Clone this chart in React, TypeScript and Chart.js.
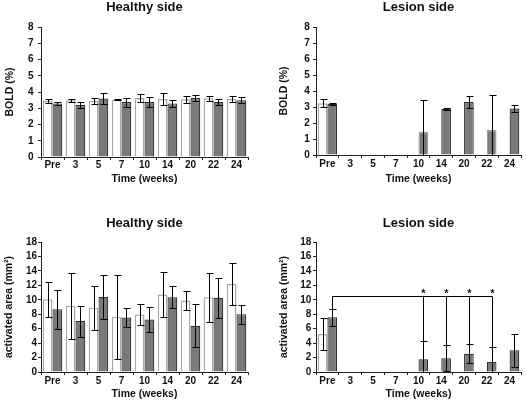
import React, { useEffect, useRef } from 'react';
import { Chart, registerables } from 'chart.js';

Chart.register(...registerables);

// ---- data ----
const weeks = ['Pre', '3', '5', '7', '10', '14', '20', '22', '24'];

// BOLD (%) healthy side
const boldHealthyOpen = [3.45, 3.49, 3.45, 3.53, 3.63, 3.57, 3.55, 3.61, 3.57];
const boldHealthyOpenErr = [0.13, 0.11, 0.2, 0.05, 0.26, 0.36, 0.2, 0.17, 0.2];
const boldHealthyFilled = [3.3, 3.2, 3.6, 3.38, 3.38, 3.3, 3.63, 3.4, 3.5];
const boldHealthyFilledErr = [0.08, 0.16, 0.35, 0.28, 0.3, 0.2, 0.2, 0.2, 0.18];

// BOLD (%) lesion side
const boldLesionOpen = [3.24, null, null, null, null, null, null, null, null];
const boldLesionOpenErr = [0.26, null, null, null, null, null, null, null, null];
const boldLesionFilled = [3.18, null, null, null, 1.43, 2.87, 3.31, 1.56, 2.9];
const boldLesionFilledErr = [0.06, null, null, null, 2.02, 0.08, 0.4, 2.2, 0.2];

// activated area (mm²) healthy side
const areaHealthyOpen = [10.08, 9.16, 8.89, 7.64, 7.97, 10.73, 9.9, 10.36, 12.2];
const areaHealthyOpenErr = [2.4, 4.6, 3.06, 5.8, 1.42, 3.06, 1.27, 3.4, 2.93];
const areaHealthyFilled = [8.7, 7.05, 10.4, 7.55, 7.27, 10.36, 6.4, 10.27, 8.01];
const areaHealthyFilledErr = [2.7, 2.15, 3.04, 1.3, 1.75, 1.56, 2.95, 2.8, 1.32];

// activated area (mm²) lesion side
const areaLesionOpen = [5.26, null, null, null, null, null, null, null, null];
const areaLesionOpenErr = [2.2, null, null, null, null, null, null, null, null];
const areaLesionFilled = [7.58, null, null, null, 1.77, 1.91, 2.51, 1.4, 3.02];
const areaLesionFilledErr = [1.16, null, null, null, 2.5, 1.82, 1.3, 2.05, 2.28];

// significance vs Pre
const sigReference = 'Pre';
const sigWeeks = ['10', '14', '20', '22'];
const sigBracketLevel = 10.5;
const sigStarLevel = 11.1;

// ---- styles ----
const FONT = '"Liberation Sans", Arial, Helvetica, sans-serif';
const TEXT = '#111111';
const AXIS = '#222222';
const GRAY_FILL = '#7a7a7a';
const GRAY_BORDER = '#2e2e2e';
const OPEN_BORDER = '#a8a8a8';
const lesionBoldBorders = [GRAY_BORDER, GRAY_BORDER, GRAY_BORDER, GRAY_BORDER, '#9a9a9a', GRAY_BORDER, GRAY_BORDER, '#9a9a9a', GRAY_BORDER];

const errorBarPlugin = {
  id: 'errorBars',
  afterDatasetsDraw(chart: any) {
    const { ctx } = chart;
    const y = chart.scales.y;
    chart.data.datasets.forEach((ds: any, di: number) => {
      const meta = chart.getDatasetMeta(di);
      const errs = ds.errors || [];
      meta.data.forEach((bar: any, i: number) => {
        const v = ds.data[i];
        const e = errs[i];
        if (v == null || e == null) return;
        const x = Math.round(bar.x) + 0.5;
        const top = Math.round(y.getPixelForValue(v + e)) + 0.5;
        const lo = v - e;
        const bottom = Math.round(y.getPixelForValue(Math.max(0, lo))) + 0.5;
        const cap = 3;
        ctx.save();
        ctx.strokeStyle = '#000000';
        ctx.lineWidth = 1;
        ctx.beginPath();
        ctx.moveTo(x, top);
        ctx.lineTo(x, bottom);
        ctx.moveTo(x - cap, top);
        ctx.lineTo(x + cap + 1, top);
        if (lo > 0) {
          ctx.moveTo(x - cap, bottom);
          ctx.lineTo(x + cap + 1, bottom);
        }
        ctx.stroke();
        ctx.restore();
      });
    });
  },
};

const bracketPlugin = {
  id: 'sigBracket',
  afterDatasetsDraw(chart: any) {
    const ctx = chart.ctx;
    const y = chart.scales.y;
    const dsIndex = 1;
    const meta = chart.getDatasetMeta(dsIndex);
    const ds = chart.data.datasets[dsIndex];
    const labels = chart.data.labels;
    const refIdx = labels.indexOf(sigReference);
    const idxs = sigWeeks.map((w) => labels.indexOf(w));
    const yb = Math.round(y.getPixelForValue(sigBracketLevel)) + 0.5;
    const xr = Math.round(meta.data[refIdx].x) + 0.5;
    const xLast = Math.round(meta.data[idxs[idxs.length - 1]].x) + 0.5;
    ctx.save();
    ctx.strokeStyle = '#000000';
    ctx.lineWidth = 1;
    ctx.beginPath();
    ctx.moveTo(xr, yb);
    ctx.lineTo(xLast, yb);
    const refTop = ds.data[refIdx] + ds.errors[refIdx];
    ctx.moveTo(xr, yb);
    ctx.lineTo(xr, Math.round(y.getPixelForValue(refTop)) + 0.5);
    idxs.forEach((i) => {
      const x = Math.round(meta.data[i].x) + 0.5;
      ctx.moveTo(x, yb);
      ctx.lineTo(x, Math.round(y.getPixelForValue(ds.data[i])) + 0.5);
    });
    ctx.stroke();
    ctx.fillStyle = TEXT;
    ctx.font = `bold 11px ${FONT}`;
    ctx.textAlign = 'center';
    ctx.textBaseline = 'middle';
    idxs.forEach((i) => {
      ctx.fillText('*', Math.round(meta.data[i].x) + 0.5, y.getPixelForValue(sigStarLevel) + 2);
    });
    ctx.restore();
  },
};

type PanelSpec = {
  title: string;
  yTitle: string;
  yMax: number;
  yStep: number;
  open: (number | null)[];
  openErr: (number | null)[];
  filled: (number | null)[];
  filledErr: (number | null)[];
  filledBorder?: string[];
  lay: {
    padLeft: number;
    padRight: number;
    titleTop: number;
    titleBottom: number;
    yTitlePad: number;
    yTickPad: number;
    xHeight: number;
    xTickPad: number;
    xTitleBottom: number;
  };
  bracket?: boolean;
};

function makeConfig(p: PanelSpec): any {
  const plugins: any[] = [errorBarPlugin];
  if (p.bracket) plugins.push(bracketPlugin);
  return {
    type: 'bar',
    data: {
      labels: weeks,
      datasets: [
        {
          data: p.open,
          errors: p.openErr,
          backgroundColor: '#ffffff',
          borderColor: OPEN_BORDER,
          borderWidth: 1.5,
        },
        {
          data: p.filled,
          errors: p.filledErr,
          backgroundColor: GRAY_FILL,
          borderColor: p.filledBorder || GRAY_BORDER,
          borderWidth: 1.2,
        },
      ],
    },
    options: {
      animation: false,
      responsive: false,
      maintainAspectRatio: false,
      devicePixelRatio: 1,
      datasets: { bar: { categoryPercentage: 0.85, barPercentage: 1.0 } },
      layout: { padding: { left: p.lay.padLeft, right: p.lay.padRight, top: 0, bottom: 0 } },
      plugins: {
        legend: { display: false },
        tooltip: { enabled: false },
        title: {
          display: true,
          text: p.title,
          fullSize: false,
          color: TEXT,
          font: { family: FONT, size: 13, weight: 'bold', lineHeight: 1.2 },
          padding: { top: p.lay.titleTop, bottom: p.lay.titleBottom },
        },
      },
      scales: {
        x: {
          offset: true,
          grid: { display: true, offset: true, drawOnChartArea: false, drawTicks: true, tickLength: 3, color: AXIS },
          border: { display: true, color: AXIS, width: 1 },
          ticks: {
            color: TEXT,
            padding: p.lay.xTickPad,
            maxRotation: 0,
            autoSkip: false,
            font: { family: FONT, size: 10, weight: 'bold', lineHeight: 1 },
          },
          title: {
            display: true,
            text: 'Time (weeks)',
            color: TEXT,
            font: { family: FONT, size: 10.5, weight: 'bold', lineHeight: 1.2 },
            padding: { top: 0, bottom: p.lay.xTitleBottom },
          },
          afterFit: (s: any) => {
            s.height = p.lay.xHeight;
          },
        },
        y: {
          min: 0,
          max: p.yMax,
          grid: { display: true, drawOnChartArea: false, drawTicks: true, tickLength: 3, color: AXIS },
          border: { display: true, color: AXIS, width: 1 },
          ticks: {
            stepSize: p.yStep,
            autoSkip: false,
            color: TEXT,
            padding: p.lay.yTickPad,
            font: { family: FONT, size: 10, weight: 'bold', lineHeight: 1 },
          },
          title: {
            display: true,
            text: p.yTitle,
            color: TEXT,
            font: { family: FONT, size: 10.5, weight: 'bold', lineHeight: 1.2 },
            padding: { top: p.lay.yTitlePad, bottom: 0 },
          },
          afterFit: (s: any) => {
            s.width = 41;
          },
        },
      },
    },
    plugins,
  };
}

const panels: { spec: PanelSpec; left: number; top: number; width: number; height: number }[] = [
  {
    left: 0,
    top: 0,
    width: 263,
    height: 200,
    spec: {
      title: 'Healthy side',
      yTitle: 'BOLD (%)',
      yMax: 8,
      yStep: 1,
      open: boldHealthyOpen,
      openErr: boldHealthyOpenErr,
      filled: boldHealthyFilled,
      filledErr: boldHealthyFilledErr,
      lay: { padLeft: 0, padRight: 15, titleTop: 0, titleBottom: 11.4, yTitlePad: 4, yTickPad: 4.5, xHeight: 43, xTickPad: 0, xTitleBottom: 15 },
    },
  },
  {
    left: 263,
    top: 0,
    width: 264,
    height: 200,
    spec: {
      title: 'Lesion side',
      yTitle: 'BOLD (%)',
      yMax: 8,
      yStep: 1,
      open: boldLesionOpen,
      openErr: boldLesionOpenErr,
      filled: boldLesionFilled,
      filledErr: boldLesionFilledErr,
      filledBorder: lesionBoldBorders,
      lay: { padLeft: 12, padRight: 6, titleTop: 0, titleBottom: 11.4, yTitlePad: 2.5, yTickPad: 3.3, xHeight: 45, xTickPad: 1, xTitleBottom: 14.7 },
    },
  },
  {
    left: 0,
    top: 200,
    width: 263,
    height: 204,
    spec: {
      title: 'Healthy side',
      yTitle: 'activated area (mm²)',
      yMax: 18,
      yStep: 2,
      open: areaHealthyOpen,
      openErr: areaHealthyOpenErr,
      filled: areaHealthyFilled,
      filledErr: areaHealthyFilledErr,
      lay: { padLeft: 0, padRight: 15, titleTop: 16, titleBottom: 10.4, yTitlePad: 3, yTickPad: 1, xHeight: 32, xTickPad: 1.7, xTitleBottom: 3.4 },
    },
  },
  {
    left: 263,
    top: 200,
    width: 264,
    height: 204,
    spec: {
      title: 'Lesion side',
      yTitle: 'activated area (mm²)',
      yMax: 18,
      yStep: 2,
      open: areaLesionOpen,
      openErr: areaLesionOpenErr,
      filled: areaLesionFilled,
      filledErr: areaLesionFilledErr,
      bracket: true,
      lay: { padLeft: 12, padRight: 6, titleTop: 16, titleBottom: 10.4, yTitlePad: 2.4, yTickPad: 1.7, xHeight: 32, xTickPad: 1.7, xTitleBottom: 3.4 },
    },
  },
];

function Panel({ spec, left, top, width, height }: { spec: PanelSpec; left: number; top: number; width: number; height: number }) {
  const ref = useRef<HTMLCanvasElement | null>(null);
  useEffect(() => {
    if (!ref.current) return;
    const chart = new Chart(ref.current, makeConfig(spec));
    return () => chart.destroy();
  }, [spec]);
  return (
    <canvas
      ref={ref}
      width={width}
      height={height}
      style={{ position: 'absolute', left, top, width, height, display: 'block' }}
    />
  );
}

export default function App() {
  return (
    <div style={{ position: 'relative', width: 527, height: 404, background: '#ffffff' }}>
      <style>{`body{margin:0;background:#ffffff;}`}</style>
      {panels.map((p, i) => (
        <Panel key={i} spec={p.spec} left={p.left} top={p.top} width={p.width} height={p.height} />
      ))}
    </div>
  );
}
